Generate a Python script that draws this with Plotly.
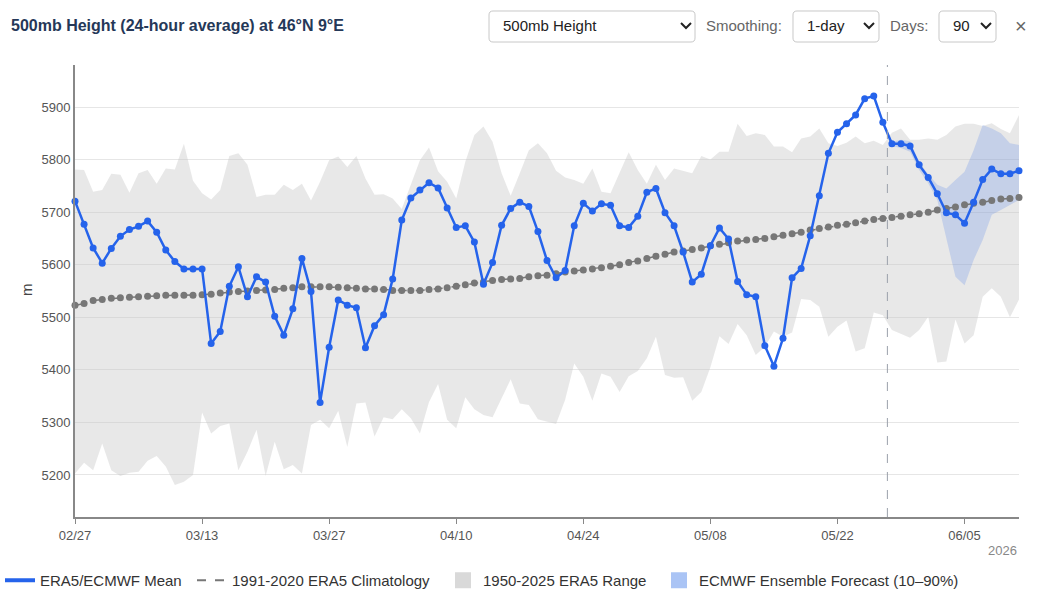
import plotly.graph_objects as go
import pandas as pd

# ---------------- data ----------------
START = "2026-02-27"
FORECAST_START = "2026-05-27 12:00"

mean = [5721, 5677, 5632, 5603, 5631, 5654, 5667, 5673, 5683, 5662, 5628, 5606, 5592, 5592, 5592,
        5450, 5473, 5559, 5596, 5539, 5577, 5567, 5502, 5466, 5516, 5612, 5549, 5338, 5443, 5533,
        5523, 5518, 5442, 5484, 5505,
        5573, 5685, 5727, 5742, 5756, 5746, 5708, 5671, 5674, 5643, 5563, 5604, 5675, 5707, 5719,
        5711, 5663, 5608, 5575, 5589, 5674, 5717, 5702, 5716, 5713, 5674, 5671, 5692, 5738, 5745,
        5699, 5674, 5624, 5567, 5582, 5636,
        5670, 5649, 5568, 5543, 5539, 5446, 5407, 5460, 5575, 5593, 5655, 5731, 5812, 5852, 5868,
        5885, 5916, 5921, 5871, 5830, 5830, 5826, 5790, 5766, 5735, 5699, 5695, 5679, 5719, 5762,
        5782, 5773, 5773, 5779]

climatology = [5523, 5526, 5532, 5534, 5536, 5537, 5538, 5539, 5540, 5541, 5542, 5542, 5542, 5542,
               5543, 5544, 5546, 5548, 5549, 5550, 5551, 5552, 5553, 5555, 5556, 5558, 5558, 5558,
               5558, 5557, 5556, 5555, 5554, 5554, 5553,
               5551, 5551, 5551, 5551, 5553, 5554, 5556, 5559, 5562, 5565, 5567, 5570, 5572, 5573,
               5574, 5577, 5579, 5580, 5583, 5586, 5588, 5590, 5592, 5594, 5597, 5600, 5604, 5607,
               5612, 5616, 5620, 5624, 5626, 5629, 5632, 5636,
               5639, 5642, 5645, 5647, 5648, 5650, 5653, 5656, 5659, 5662, 5666, 5669, 5672, 5675,
               5677, 5680, 5683, 5686, 5688, 5690, 5692, 5695, 5697, 5700, 5704, 5707, 5710, 5714,
               5717, 5719, 5722, 5725, 5726, 5728]

range_upper = [5781, 5780, 5739, 5742, 5773, 5771, 5737, 5774, 5780, 5754, 5783, 5781, 5830, 5760,
               5736, 5724, 5742, 5807, 5812, 5790, 5729, 5733, 5733, 5752, 5742, 5754, 5722, 5758,
               5799, 5806, 5786, 5807, 5764, 5733, 5734,
               5726, 5706, 5754, 5799, 5823, 5778, 5758, 5726, 5796, 5847, 5863, 5834, 5774, 5731,
               5774, 5818, 5831, 5812, 5779, 5766, 5761, 5754, 5783, 5739, 5736, 5774, 5814, 5780,
               5754, 5790, 5761, 5783, 5778, 5774, 5807, 5800,
               5815, 5815, 5868, 5845, 5850, 5847, 5825, 5825, 5814, 5840, 5844, 5859, 5831, 5826,
               5832, 5844, 5831, 5836, 5828, 5851, 5859, 5838, 5838, 5840, 5838, 5847, 5863, 5868,
               5868, 5864, 5869, 5858, 5850, 5885]

range_lower = [5203, 5223, 5209, 5260, 5209, 5198, 5204, 5206, 5227, 5236, 5216, 5181, 5187, 5200,
               5319, 5279, 5293, 5298, 5209, 5244, 5286, 5198, 5263, 5211, 5219, 5203, 5295, 5305,
               5289, 5322, 5253, 5336, 5338, 5273, 5310,
               5306, 5325, 5308, 5279, 5339, 5373, 5305, 5289, 5348, 5325, 5314, 5310, 5346, 5382,
               5336, 5333, 5306, 5301, 5297, 5343, 5412, 5387, 5341, 5393, 5387, 5358, 5388, 5398,
               5422, 5463, 5390, 5385, 5386, 5341, 5358, 5405,
               5464, 5449, 5487, 5466, 5428, 5444, 5473, 5463, 5471, 5535, 5533, 5520, 5463, 5482,
               5494, 5435, 5441, 5509, 5504, 5476, 5469, 5461, 5476, 5501, 5414, 5416, 5496, 5450,
               5466, 5539, 5555, 5539, 5500, 5534]

# ECMWF ensemble 10-90% (last 16 days of the window)
ens_lower = [5871, 5826, 5822, 5815, 5780, 5755, 5723, 5647, 5577, 5561, 5609, 5647, 5695, 5704, 5714, 5723]
ens_upper = [5871, 5834, 5838, 5835, 5795, 5772, 5752, 5745, 5761, 5777, 5818, 5866, 5859, 5850, 5831, 5828]

y_ticks = [5200, 5300, 5400, 5500, 5600, 5700, 5800, 5900]

series_names = ["ERA5/ECMWF Mean", "1991-2020 ERA5 Climatology", "1950-2025 ERA5 Range",
                "ECMWF Ensemble Forecast (10–90%)"]

dates = pd.date_range(START, periods=len(mean), freq="D")
ens_dates = dates[len(mean) - len(ens_lower):]
tick_dates = pd.date_range(START, periods=8, freq="14D")

# ---------------- styles ----------------
BLUE = "#2563eb"
GRAY = "#777777"
FONT = "Liberation Sans, Arial, sans-serif"

FW, FH = 1039, 602
L, R, T, B = 75, 1019, 65, 517
W, H = R - L, B - T


def px(x):
    return (x - L) / W


def py(y):
    return (B - y) / H


def rrect(x0, y0, x1, y1, r=4):
    pts = [("M", x0 + r, y0), ("L", x1 - r, y0), ("Q", x1, y0, x1, y0 + r), ("L", x1, y1 - r),
           ("Q", x1, y1, x1 - r, y1), ("L", x0 + r, y1), ("Q", x0, y1, x0, y1 - r),
           ("L", x0, y0 + r), ("Q", x0, y0, x0 + r, y0)]
    s = ""
    for p in pts:
        coords = p[1:]
        parts = []
        for i in range(0, len(coords), 2):
            parts.append(f"{px(coords[i]):.5f},{py(coords[i + 1]):.5f}")
        s += p[0] + " " + " ".join(parts) + " "
    return s + "Z"


def chevron(cx, cy):
    return (f"M {px(cx - 5):.5f},{py(cy - 3):.5f} L {px(cx):.5f},{py(cy + 2):.5f} "
            f"L {px(cx + 5):.5f},{py(cy - 3):.5f}")


fig = go.Figure()

# climatological range band
fig.add_trace(go.Scatter(x=dates, y=range_lower, mode="lines", line=dict(width=0),
                         hoverinfo="skip", showlegend=False))
fig.add_trace(go.Scatter(x=dates, y=range_upper, mode="lines", line=dict(width=0),
                         fill="tonexty", fillcolor="rgba(200,200,200,0.42)",
                         hoverinfo="skip", showlegend=False))
# ensemble band
fig.add_trace(go.Scatter(x=ens_dates, y=ens_lower, mode="lines", line=dict(width=0),
                         hoverinfo="skip", showlegend=False))
fig.add_trace(go.Scatter(x=ens_dates, y=ens_upper, mode="lines", line=dict(width=0),
                         fill="tonexty", fillcolor="rgba(37,99,235,0.18)",
                         hoverinfo="skip", showlegend=False))
# climatology
fig.add_trace(go.Scatter(x=dates, y=climatology, mode="lines+markers",
                         line=dict(color=GRAY, width=1.5, dash="dash"),
                         marker=dict(color=GRAY, size=7), showlegend=False, cliponaxis=False))
# mean
fig.add_trace(go.Scatter(x=dates, y=mean, mode="lines+markers",
                         line=dict(color=BLUE, width=2.5),
                         marker=dict(color=BLUE, size=7), showlegend=False, cliponaxis=False))

# legend-only entries, each in its own legend box
fig.add_trace(go.Scatter(x=[None], y=[None], mode="lines", name=series_names[0],
                         line=dict(color=BLUE, width=4), legend="legend"))
fig.add_trace(go.Scatter(x=[None], y=[None], mode="lines", name=series_names[1],
                         line=dict(color=GRAY, width=2, dash="dash"), legend="legend2"))
fig.add_trace(go.Scatter(x=[None], y=[None], mode="markers", name=series_names[2],
                         marker=dict(color="#d9d9d9", size=16, symbol="square"), legend="legend3"))
fig.add_trace(go.Scatter(x=[None], y=[None], mode="markers", name=series_names[3],
                         marker=dict(color="#aac4f5", size=16, symbol="square"), legend="legend4"))

shapes = [
    dict(type="line", xref="x", yref="paper", x0=FORECAST_START, x1=FORECAST_START, y0=0, y1=1,
         line=dict(color="#9aa0aa", width=1, dash="dash")),
]
# controls (mimicking HTML selects)
for (x0, x1, cx) in [(489, 695, 686), (793, 879, 869), (939, 996, 986)]:
    shapes.append(dict(type="path", xref="paper", yref="paper", path=rrect(x0, 11, x1, 42),
                       line=dict(color="#c8c8c8", width=1), fillcolor="white"))
    shapes.append(dict(type="path", xref="paper", yref="paper", path=chevron(cx, 26),
                       line=dict(color="#222", width=2)))

annotations = [
    dict(text="<b>500mb Height (24-hour average) at 46°N 9°E</b>", xref="paper", yref="paper",
         x=px(9), y=py(25), xanchor="left", yanchor="middle", showarrow=False,
         font=dict(size=16, color="#253858", family=FONT)),
    dict(text="500mb Height", xref="paper", yref="paper", x=px(501), y=py(26),
         xanchor="left", yanchor="middle", showarrow=False, font=dict(size=15, color="#222")),
    dict(text="Smoothing:", xref="paper", yref="paper", x=px(704), y=py(26),
         xanchor="left", yanchor="middle", showarrow=False, font=dict(size=15, color="#666")),
    dict(text="1-day", xref="paper", yref="paper", x=px(805), y=py(26),
         xanchor="left", yanchor="middle", showarrow=False, font=dict(size=15, color="#222")),
    dict(text="Days:", xref="paper", yref="paper", x=px(888), y=py(26),
         xanchor="left", yanchor="middle", showarrow=False, font=dict(size=15, color="#666")),
    dict(text="90", xref="paper", yref="paper", x=px(951), y=py(26),
         xanchor="left", yanchor="middle", showarrow=False, font=dict(size=15, color="#222")),
    dict(text="×", xref="paper", yref="paper", x=px(1021), y=py(26),
         xanchor="center", yanchor="middle", showarrow=False, font=dict(size=20, color="#666")),
    dict(text="2026", xref="paper", yref="paper", x=px(1019), y=py(550),
         xanchor="right", yanchor="middle", showarrow=False, font=dict(size=13, color="#888")),
    dict(text="m", xref="paper", yref="paper", x=px(26), y=py(290), textangle=-90,
         xanchor="center", yanchor="middle", showarrow=False, font=dict(size=15, color="#444")),
]


def legend_box(x_px):
    return dict(orientation="h", xref="container", yref="container",
                x=x_px / FW, y=1 - 564 / FH, xanchor="left", yanchor="top",
                font=dict(size=15, color="#333"), itemwidth=30,
                bgcolor="rgba(0,0,0,0)")


fig.update_layout(
    width=FW, height=FH,
    margin=dict(l=L, r=FW - R, t=T, b=FH - B, autoexpand=False),
    paper_bgcolor="white", plot_bgcolor="white",
    font=dict(family=FONT, size=13, color="#555"),
    shapes=shapes, annotations=annotations,
    showlegend=True,
    legend=legend_box(0),
    legend2=legend_box(192),
    legend3=legend_box(443),
    legend4=legend_box(659),
    xaxis=dict(type="date", range=[dates[0], dates[-1]], tickvals=tick_dates, tickformat="%m/%d",
               showgrid=False, showline=True, linecolor="#888", linewidth=2,
               ticks="outside", ticklen=5, tickcolor="#888", tickwidth=1,
               tickfont=dict(size=13, color="#555"), zeroline=False, automargin=False),
    yaxis=dict(range=[5120, 5980], tickvals=y_ticks, showgrid=True, gridcolor="#e6e6e6",
               gridwidth=1, showline=True, linecolor="#888", linewidth=2, ticks="",
               tickfont=dict(size=13, color="#555"), zeroline=False, automargin=False),
    hovermode="closest",
)

fig.write_html("out.html")
